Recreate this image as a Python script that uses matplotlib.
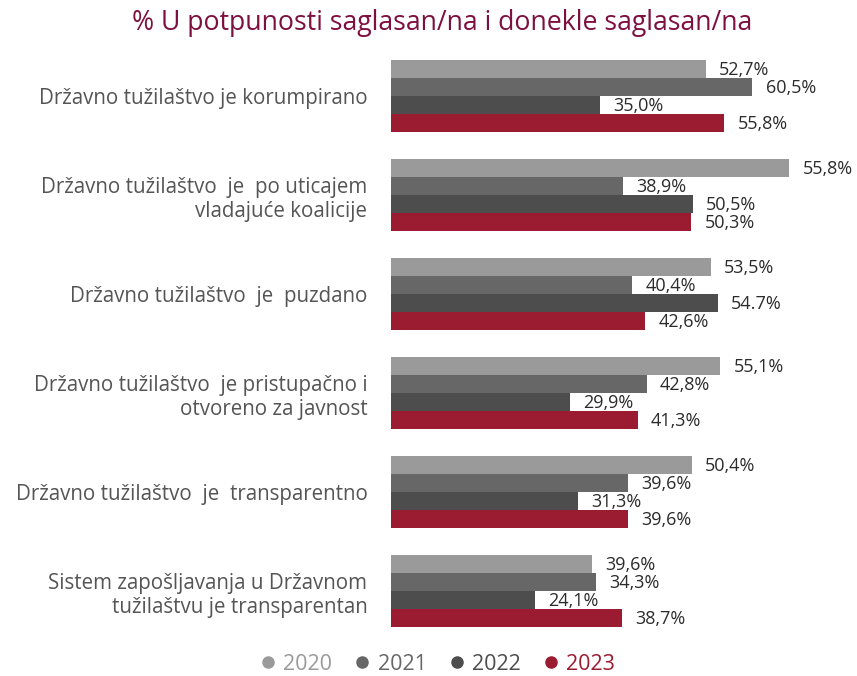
import numpy as np
import matplotlib.pyplot as plt
from matplotlib.lines import Line2D

plt.rcParams['font.family'] = ['Open Sans', 'DejaVu Sans']

categories = [
    'Državno tužilaštvo je korumpirano',
    'Državno tužilaštvo  je  po uticajem\nvladajuće koalicije',
    'Državno tužilaštvo  je  puzdano',
    'Državno tužilaštvo  je pristupačno i\notvoreno za javnost',
    'Državno tužilaštvo  je  transparentno',
    'Sistem zapošljavanja u Državnom\ntužilaštvu je transparentan',
]
years = ['2020', '2021', '2022', '2023']

# bar lengths as drawn in the picture
v2020 = [52.7, 66.7, 53.5, 55.1, 50.4, 33.7]
v2021 = [60.5, 38.9, 40.4, 42.8, 39.6, 34.3]
v2022 = [35.0, 50.5, 54.7, 29.9, 31.3, 24.1]
v2023 = [55.8, 50.3, 42.6, 41.3, 39.6, 38.7]

# labels as printed
t2020 = ['52,7%', '55,8%', '53,5%', '55,1%', '50,4%', '39,6%']
t2021 = ['60,5%', '38,9%', '40,4%', '42,8%', '39,6%', '34,3%']
t2022 = ['35,0%', '50,5%', '54.7%', '29,9%', '31,3%', '24,1%']
t2023 = ['55,8%', '50,3%', '42,6%', '41,3%', '39,6%', '38,7%']

values = [v2020, v2021, v2022, v2023]
texts = [t2020, t2021, t2022, t2023]
colors = ['#9a9a9a', '#676767', '#4d4d4d', '#9b1c31']

fig = plt.figure(figsize=(8.57, 6.76), dpi=100)
ax = fig.add_axes([391 / 857, 1 - 640.5 / 676, (851 - 391) / 857, 594 / 676])

y = np.arange(len(categories))
h = 18 / 99
for i, (vals, labs, c) in enumerate(zip(values, texts, colors)):
    pos = y - 2 * h + (i + 0.5) * h
    ax.barh(pos, vals, height=h, color=c, zorder=2 + 2 * i)
    for p, v, s in zip(pos, vals, labs):
        ax.annotate(s, (v, p), xytext=(9.5, -1), textcoords='offset points',
                    va='center', ha='left', fontsize=13, color='#2b2b2b',
                    zorder=3 + 2 * i)

ax.set_xlim(0, 77)
ax.set_ylim(5.5, -0.5)
ax.set_yticks(y)
ax.set_yticklabels(categories, fontsize=14.8, color='#555555', linespacing=1.25)
ax.tick_params(axis='y', length=0, pad=17)
ax.set_xticks([])
for s in ax.spines.values():
    s.set_visible(False)

fig.text(442 / 857, 1 - 23 / 676, '% U potpunosti saglasan/na i donekle saglasan/na',
         ha='center', va='center', fontsize=19.2, color='#7d1040')

handles = [Line2D([], [], marker='o', ls='none', color=c, markersize=8) for c in colors]
fig.legend(handles, years, loc='center', bbox_to_anchor=(436 / 857, 1 - 664 / 676),
           ncol=4, frameon=False, fontsize=15.5, labelcolor=colors,
           handletextpad=0.2, columnspacing=0.9, handlelength=1.0)

fig.savefig('out.png', dpi=100)
